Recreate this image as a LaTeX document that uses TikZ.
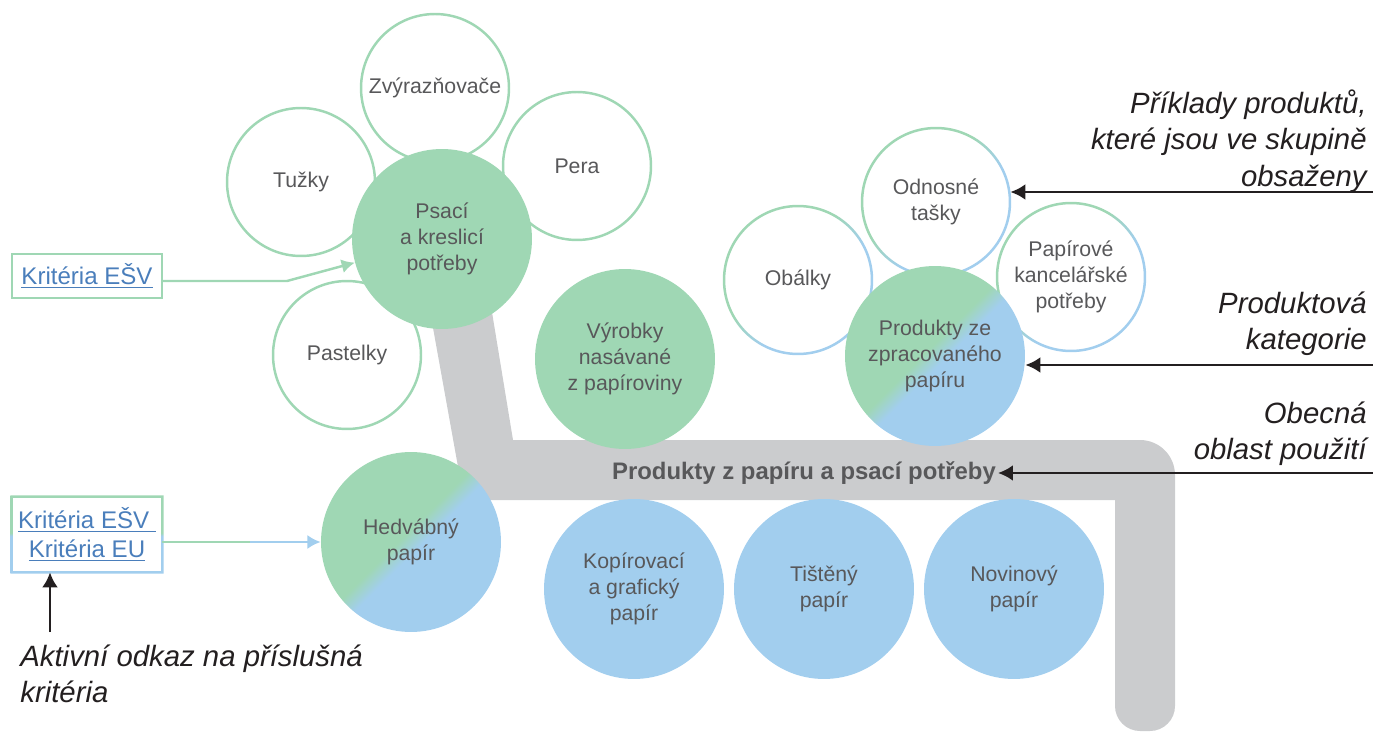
\documentclass[tikz,border=0pt]{standalone}
\usepackage{fontspec}
\setsansfont{Liberation Sans}
\usepackage{tikz}
\usetikzlibrary{arrows.meta,positioning,calc}

\definecolor{esvgreen}{HTML}{9FD7B4}
\definecolor{eublue}{HTML}{A2CEEE}
\definecolor{bandgray}{HTML}{CBCCCE}
\definecolor{dottext}{HTML}{58585A}
\definecolor{linkblue}{HTML}{4A7EBB}
\definecolor{notetext}{HTML}{231F20}

\pgfdeclarehorizontalshading{gbfill}{100bp}{color(0bp)=(esvgreen); color(47.5bp)=(esvgreen); color(52.5bp)=(eublue); color(100bp)=(eublue)}
\pgfdeclarehorizontalshading{gbring}{100bp}{color(0bp)=(esvgreen); color(43bp)=(esvgreen); color(57bp)=(eublue); color(100bp)=(eublue)}
\pgfdeclareverticalshading{gbbox}{100bp}{color(0bp)=(eublue); color(49bp)=(eublue); color(51bp)=(esvgreen); color(100bp)=(esvgreen)}

\begin{document}
\begin{tikzpicture}[
    x=0.02cm, y=-0.02cm,
    >={Latex[length=7.5pt,width=8pt]},
    font=\sffamily,
    bigdot/.style={
        circle,
        inner sep=0pt,
        minimum size=3.6cm,
        text=dottext,
        align=center,
        font=\sffamily\fontsize{12.1}{15}\selectfont
    },
    smalldot/.style={
        bigdot,
        minimum size=2.96cm,
        fill=white
    },
    greendot/.style={bigdot, fill=esvgreen},
    bluedot/.style={bigdot, fill=eublue},
    mixdot/.style={bigdot, shade, shading=gbfill, shading angle=-45},
    linkbox/.style={
        rectangle,
        minimum width=3cm,
        align=center,
        text=linkblue,
        font=\sffamily\fontsize{13.7}{16.4}\selectfont
    },
    note/.style={
        inner sep=0pt,
        text=notetext,
        font=\sffamily\itshape\fontsize{16.7}{20.7}\selectfont
    },
    notearrow/.style={-{Latex[length=8.5pt,width=9pt]}, draw=notetext, line width=1.6pt},
    greenline/.style={draw=esvgreen, line width=1.4pt},
    blueline/.style={draw=eublue, line width=1.4pt}
  ]
  \useasboundingbox (0,0) rectangle (1373,733);

  % the grey band of the general area
  \fill[bandgray] (428,300) -- (490,300) -- (513,440) -- (1140,440)
    .. controls (1159.3,440) and (1175,455.7) .. (1175,475)
    -- (1175,706) .. controls (1175,719.8) and (1163.8,731) .. (1150,731)
    -- (1140,731) .. controls (1126.2,731) and (1115,719.8) .. (1115,706)
    -- (1115,500) -- (464,500) -- cycle;

  % examples round the writing supplies
  \node [smalldot, draw=esvgreen, line width=1.4pt] (zvyr) at (435,88) {Zvýrazňovače};
  \node [smalldot, draw=esvgreen, line width=1.4pt] (tuzky) at (301,182) {Tužky};
  \node [smalldot, draw=esvgreen, line width=1.4pt] (pera) at (577,166) {Pera};
  \node [smalldot, draw=esvgreen, line width=1.4pt] (pastel) at (347,355) {Pastelky};

  \node [greendot] (psaci) at (442,239) {Psací\\a kreslicí\\potřeby};
  \node [greendot] (vyrobky) at (625,359) {Výrobky\\nasávané\\z papíroviny};

  % examples round the converted paper
  \node [smalldot] (odnos) at (936,202) {Odnosné\\tašky};
  \node [smalldot] (obalky) at (798,280) {Obálky};
  \node [smalldot] (papir) at (1071,277) {Papírové\\kancelářské\\potřeby};
  \foreach \dot in {odnos,obalky,papir}
    \shade [shading=gbring, shading angle=-45, even odd rule]
      (\dot.center) circle [radius=1.505cm] circle [radius=1.455cm];

  \node [mixdot] (produkty) at (935,356) {Produkty ze\\zpracovaného\\papíru};

  \node [mixdot] (hedv) at (411,542) {Hedvábný\\papír};
  \node [bluedot] (kopir) at (634,589) {Kopírovací\\a grafický\\papír};
  \node [bluedot] (tisten) at (824,589) {Tištěný\\papír};
  \node [bluedot] (novin) at (1014,589) {Novinový\\papír};

  \node [inner sep=1pt, text=dottext, font=\sffamily\bfseries\fontsize{13.6}{16}\selectfont]
    (bandlbl) at (804,473) {Produkty z papíru a psací potřeby};

  % the criteria links
  \node [linkbox, draw=esvgreen, line width=1.4pt, minimum height=0.88cm] (krit1) at (87,276)
    {\underline{Kritéria EŠV}};
  \node [linkbox, minimum height=1.5cm] (krit2) at (87,534.5)
    {\underline{Kritéria EŠV }\\\underline{Kritéria EU}};
  \shade [shading=gbbox, even odd rule]
    ([shift={(-0.7pt,-0.7pt)}]krit2.south west) rectangle ([shift={(0.7pt,0.7pt)}]krit2.north east)
    ([shift={(0.7pt,0.7pt)}]krit2.south west) rectangle ([shift={(-0.7pt,-0.7pt)}]krit2.north east);

  \coordinate (turn1) at (287,281);
  \coordinate (mid2) at (250,542);
  \draw [greenline, ->] (krit1.east |- turn1) -- (turn1) -- (psaci);
  \draw [greenline] (krit2.east |- mid2) -- (mid2);
  \draw [blueline, ->] (mid2) -- (hedv);

  % explanations on the right and below
  \node [note, anchor=east, align=right] (exnote) at (1367,141)
    {Příklady produktů,\\které jsou ve skupině\\obsaženy};
  \node [note, anchor=east, align=right] (catnote) at (1367,324)
    {Produktová\\kategorie};
  \node [note, anchor=east, align=right] (areanote) at (1367,434)
    {Obecná\\oblast použití};
  \node [note, anchor=west, align=left] (aktnote) at (20,674)
    {Aktivní odkaz na příslušná\\kritéria};

  \coordinate (exin) at (1373,192);
  \coordinate (catin) at (1373,365);
  \coordinate (areain) at (1373,473);
  \coordinate (akttail) at (50,632);
  \draw [notearrow] (exin) -- (exin -| odnos.east);
  \draw [notearrow] (catin) -- (catin -| produkty.east);
  \draw [notearrow] (areain) -- (bandlbl.east);
  \draw [notearrow] (akttail) -- (akttail |- krit2.south);

\end{tikzpicture}
\end{document}
